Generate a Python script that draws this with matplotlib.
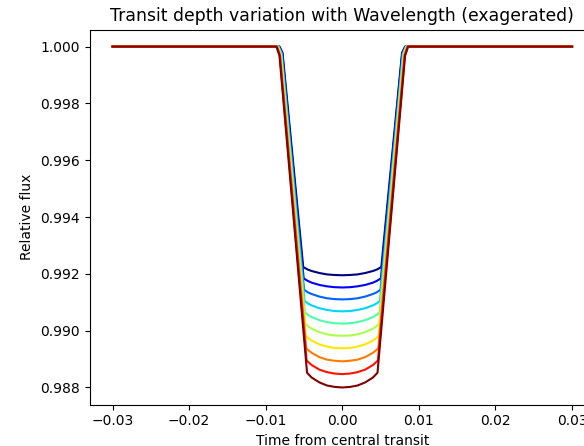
import numpy as np
import matplotlib
matplotlib.use("Agg")
import matplotlib.pyplot as plt

# ---------------------------------------------------------
# Light curves, one per wavelength bin
# (left half only, the curves are symmetric about t = 0)

t_start = -0.03
flux_out = 1.0

# first contact, end of the rounded knee, second contact (per curve)
t_first = [-0.00820, -0.00824, -0.00829, -0.00833, -0.00838,
           -0.00842, -0.00847, -0.00851, -0.00856, -0.00860]
t_knee = [-0.00780, -0.00784, -0.00789, -0.00793, -0.00798,
          -0.00802, -0.00807, -0.00811, -0.00816, -0.00820]
t_second = [-0.00510, -0.00504, -0.00499, -0.00493, -0.00488,
            -0.00482, -0.00477, -0.00471, -0.00466, -0.00460]

flux_knee = [0.99978, 0.99977, 0.99976, 0.99975, 0.99974,
             0.99973, 0.99972, 0.99970, 0.99969, 0.99968]
flux_edge = [0.99224, 0.99184, 0.99144, 0.99105, 0.99064,
             0.99024, 0.98982, 0.98939, 0.98896, 0.98852]

# bottom of the transit (limb darkened part)
t_bottom = [-0.0045, -0.0040, -0.0030, -0.0020, -0.0010, 0.0]
flux_bottom = [
    [0.99215, 0.99210, 0.99203, 0.99198, 0.99196, 0.99195],
    [0.99175, 0.99169, 0.99161, 0.99156, 0.99153, 0.99152],
    [0.99135, 0.99129, 0.99120, 0.99114, 0.99111, 0.99110],
    [0.99096, 0.99089, 0.99079, 0.99073, 0.99069, 0.99068],
    [0.99056, 0.99048, 0.99037, 0.99030, 0.99026, 0.99025],
    [0.99016, 0.99007, 0.98995, 0.98987, 0.98983, 0.98982],
    [0.98975, 0.98965, 0.98952, 0.98944, 0.98939, 0.98938],
    [0.98933, 0.98922, 0.98907, 0.98898, 0.98894, 0.98892],
    [0.98891, 0.98879, 0.98863, 0.98854, 0.98849, 0.98847],
    [0.98849, 0.98835, 0.98818, 0.98807, 0.98802, 0.98800],
]

n_curves = len(t_first)
colors = plt.cm.jet(np.linspace(0, 1, n_curves))

# ---------------------------------------------------------
fig = plt.figure(figsize=(5.84, 4.46), dpi=100)
ax = fig.add_axes([0.1533, 0.093, 0.8656, 0.8408])

for i in range(n_curves):
    t_half = np.array([t_start, t_first[i], t_knee[i], t_second[i]] + t_bottom)
    f_half = np.array([flux_out, flux_out, flux_knee[i], flux_edge[i]] + flux_bottom[i])
    # mirror the left half to get the egress
    t = np.concatenate([t_half, -t_half[-2::-1]])
    f = np.concatenate([f_half, f_half[-2::-1]])
    ax.plot(t, f, color=colors[i])

ax.set_title("Transit depth variation with Wavelength (exagerated)", fontsize=12.4)
ax.set_xlabel("Time from central transit")
ax.set_ylabel("Relative flux")

fig.savefig("out.png", dpi=100)
